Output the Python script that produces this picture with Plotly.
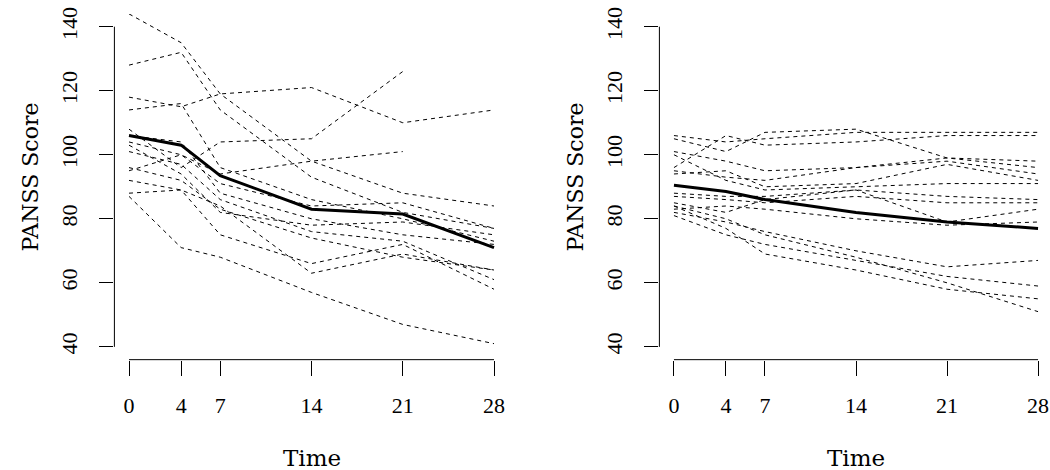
import plotly.graph_objects as go

times = [0, 4, 7, 14, 21, 28]
x_ticks = [0, 4, 7, 14, 21, 28]
y_ticks = [40, 60, 80, 100, 120, 140]

# Left panel: individual subjects (None = missing)
left_s01 = [144, 135, 119, 98, 88, 84]
left_s02 = [128, 132, 114, 93, 82, 77]
left_s03 = [118, 115, 119, 121, 110, 114]
left_s04 = [114, 116, 96, 86, 80, 73]
left_s05 = [108, 96, 104, 105, 126, None]
left_s06 = [104, 100, 94, 98, 101, None]
left_s07 = [106, 104, 88, 80, 75, 72]
left_s08 = [101, 97, 86, 76, 73, 61]
left_s09 = [96, 92, 83, 74, 68, 64]
left_s10 = [95, 100, 91, 84, 85, 77]
left_s11 = [92, 89, 84, 63, 69, 64]
left_s12 = [88, 89, 75, 66, 72, 58]
left_s13 = [87, 71, 68, 57, 47, 41]
left_s14 = [103, 94, 82, 78, 79, 75]
left_mean = [106, 103, 93.5, 83, 81.5, 71]

# Right panel
right_s01 = [106, 104, 105, 107, 107, 107]
right_s02 = [105, 101, 107, 108, 99, 98]
right_s03 = [96, 106, 103, 104, 106, 106]
right_s04 = [101, 98, 95, 96, 99, 96]
right_s05 = [95, 93, 92, 96, 98, 94]
right_s06 = [94, 95, 90, 91, 97, 92]
right_s07 = [100, 92, 89, 90, 91, 91]
right_s08 = [88, 87, 87, 89, 87, 86]
right_s09 = [87, 86, 85, 87, 85, 85]
right_s10 = [85, 82, 86, 89, 79, 83]
right_s11 = [83, 84, 83, 80, 78, 79]
right_s12 = [82, 79, 76, 70, 65, 67]
right_s13 = [81, 75, 72, 67, 62, 59]
right_s14 = [84, 77, 69, 64, 58, 55]
right_s15 = [84, 80, 75, 68, 60, 51]
right_mean = [90.5, 88.5, 86, 82, 79, 77]

left_subjects = [left_s01, left_s02, left_s03, left_s04, left_s05, left_s06, left_s07,
                 left_s08, left_s09, left_s10, left_s11, left_s12, left_s13, left_s14]
right_subjects = [right_s01, right_s02, right_s03, right_s04, right_s05, right_s06, right_s07,
                  right_s08, right_s09, right_s10, right_s11, right_s12, right_s13, right_s14,
                  right_s15]

W, H = 1050, 470
TICK_FONT = "Liberation Serif, Times New Roman, serif"
TITLE_FONT = "DejaVu Serif, serif"
FS = 22

fig = go.Figure()

for subj in left_subjects:
    fig.add_trace(go.Scatter(x=times, y=subj, mode="lines", xaxis="x", yaxis="y",
                             line=dict(color="black", width=1, dash="4px,4px"),
                             connectgaps=False, showlegend=False, hoverinfo="skip"))
fig.add_trace(go.Scatter(x=times, y=left_mean, mode="lines", xaxis="x", yaxis="y",
                         line=dict(color="black", width=3), showlegend=False))

for subj in right_subjects:
    fig.add_trace(go.Scatter(x=times, y=subj, mode="lines", xaxis="x2", yaxis="y2",
                             line=dict(color="black", width=1, dash="4px,4px"),
                             connectgaps=False, showlegend=False, hoverinfo="skip"))
fig.add_trace(go.Scatter(x=times, y=right_mean, mode="lines", xaxis="x2", yaxis="y2",
                         line=dict(color="black", width=3), showlegend=False))

# pixel geometry
y_bot_px, y_top_px = 358, 7
ydom = [(H - y_bot_px) / H, (H - y_top_px) / H]
x1dom = [114.4 / W, 508.6 / W]
x2dom = [659.4 / W, 1.0]

xax = dict(tickmode="array", tickvals=x_ticks, ticktext=[str(t) for t in x_ticks],
           ticks="outside", ticklen=15, tickwidth=1, tickcolor="black",
           showline=False, showgrid=False, zeroline=False,
           tickfont=dict(family=TICK_FONT, size=FS, color="black"), ticklabelstandoff=11)
yax = dict(tickmode="array", tickvals=y_ticks, ticktext=[str(t) for t in y_ticks],
           ticks="outside", ticklen=14, tickwidth=1, tickcolor="black",
           showline=False, showgrid=False, zeroline=False, tickangle=-90,
           tickfont=dict(family=TICK_FONT, size=FS, color="black"), ticklabelstandoff=14,
           range=[36, 144], domain=ydom)

fig.update_layout(
    width=W, height=H, margin=dict(l=0, r=0, t=0, b=0),
    paper_bgcolor="white", plot_bgcolor="white",
    xaxis=dict(xax, domain=x1dom, range=[-1.12, 29.12], anchor="y"),
    yaxis=dict(yax, anchor="x"),
    xaxis2=dict(xax, domain=x2dom, range=[-1.12, 28.92], anchor="y2"),
    yaxis2=dict(yax, anchor="x2"),
)

shapes = []
for xa, ya, dom in [("x", "y", x1dom), ("x2", "y2", x2dom)]:
    shapes.append(dict(type="line", xref=xa, yref="paper", x0=x_ticks[0], x1=x_ticks[-1],
                       y0=ydom[0], y1=ydom[0], line=dict(color="black", width=1)))
    shapes.append(dict(type="line", xref="paper", yref=ya, x0=dom[0], x1=dom[0],
                       y0=y_ticks[0], y1=y_ticks[-1], line=dict(color="black", width=1)))
fig.update_layout(shapes=shapes)

annos = []
for xa, xpix_title in [("x", 30), ("x2", 575)]:
    annos.append(dict(text="Time", xref=xa, yref="paper", x=14, y=(H - 458) / H,
                      showarrow=False, font=dict(family=TITLE_FONT, size=23, color="black"),
                      xanchor="center", yanchor="middle"))
    annos.append(dict(text="PANSS Score", xref="paper", yref="paper", x=xpix_title / W,
                      y=(H - 173) / H, textangle=-90, showarrow=False,
                      font=dict(family=TITLE_FONT, size=22, color="black"),
                      xanchor="center", yanchor="middle"))
fig.update_layout(annotations=annos)

fig.write_html("out.html", config={"displayModeBar": False},
               post_script="document.body.style.margin='0';document.body.style.overflow='hidden';")
